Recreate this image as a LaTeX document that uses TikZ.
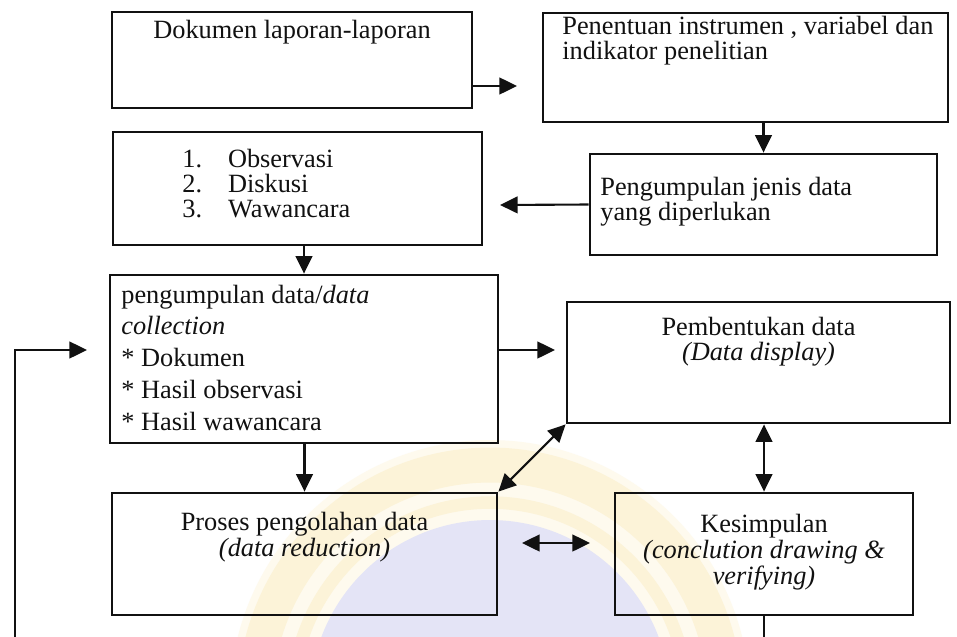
\documentclass[tikz,border=0pt]{standalone}
\usepackage{fontspec}
\setmainfont{Liberation Serif}
\usetikzlibrary{arrows.meta,fit}

\definecolor{ink}{HTML}{111111}
\definecolor{wmyellow}{HTML}{FCF3D8}
\definecolor{wmyellowlight}{HTML}{FEFAEE}
\definecolor{wmblue}{HTML}{E4E4F6}

% a block of lines whose baseline is the first line
\newcommand{\txtblock}[2]{\begin{tabular}[t]{@{}#1@{}}#2\end{tabular}}

\begin{document}
\begin{tikzpicture}[x=0.02cm, y=-0.02cm,
  box/.style={draw=ink, line width=1.6pt, inner sep=0pt},
  txt/.style={inner sep=0pt, text=ink, font=\fontsize{15pt}{#1}\selectfont},
  txt/.default=14pt,
  link/.style={draw=ink, line width=1.2pt, -{Triangle[length=10pt,width=9.5pt]}},
  twoway/.style={draw=ink, line width=1.2pt,
    {Triangle[length=10pt,width=9.5pt]}-{Triangle[length=10pt,width=9.5pt]}}]

\useasboundingbox (0,0) rectangle (957,636);
\clip (0,0) rectangle (957,636);
\fill[white] (0,0) rectangle (957,636);

% faint seal printed behind the lower part
\fill[wmyellowlight] (490,700) circle[radius=5.2cm];
\draw[wmyellow, line width=0.7cm] (490,700) circle[radius=4.7cm];
\draw[wmyellow, line width=0.25cm] (490,700) circle[radius=3.95cm];
\fill[wmblue] (490,700) circle[radius=3.6cm];

% process boxes
\node[box, fit={(112,12) (472,108)}]  (dok) {};
\node[box, fit={(543,13) (948,122)}]  (pen) {};
\node[box, fit={(590,154) (937,255)}] (jen) {};
\node[box, fit={(113,132) (482,245)}] (obs) {};
\node[box, fit={(110,275) (498,443)}] (kol) {};
\node[box, fit={(567,302) (950,423)}] (pem) {};
\node[box, fit={(112,493) (497,615)}] (pro) {};
\node[box, fit={(615,493) (913,615)}] (kes) {};

% box texts
\node[txt, anchor=base] (dokT) at (dok.north |- 0,38) {Dokumen laporan-laporan};
\node[txt=13pt, anchor=base west] (penT) at (562,34)
  {\txtblock{l}{Penentuan instrumen , variabel dan\\indikator penelitian}};
\node[txt=14.2pt, anchor=base west] (jenT) at (600,195)
  {\txtblock{l}{Pengumpulan jenis data\\yang diperlukan}};
\node[txt=13.7pt, anchor=base west] (obsT) at (182,167)
  {\txtblock{p{26pt}@{}l}{1. & Observasi\\2. & Diskusi\\3. & Wawancara}};
\node[txt=18.2pt, anchor=base west] (kolT) at (121,303)
  {\txtblock{l}{pengumpulan data/\textit{data}\\\textit{collection}\\{*} Dokumen\\{*} Hasil observasi\\{*} Hasil wawancara}};
\node[txt=14.2pt, anchor=base] (pemT) at (pem.north |- 0,335)
  {\txtblock{c}{Pembentukan data\\\textit{(Data display)}}};
\node[txt=15.3pt, anchor=base] (proT) at (pro.north |- 0,530)
  {\txtblock{c}{Proses pengolahan data\\\textit{(data reduction)}}};
\node[txt=15pt, anchor=base] (kesT) at (kes.north |- 0,532)
  {\txtblock{c}{Kesimpulan\\\textit{(conclution drawing \&}\\\textit{verifying)}}};

% free arrow ends
\coordinate (dokTip)  at (517,86);
\coordinate (jenTip)  at (500,205);
\coordinate (kolTip)  at (555,350);
\coordinate (pkL)     at (522,543);
\coordinate (pkR)     at (590,543);
\coordinate (loopTip) at (87,350);
\coordinate (loopCorner) at (15,350);

% connectors
\draw[link] (dok.east |- dokTip) -- (dokTip);
\draw[link] (jen.north |- pen.south) -- (jen.north);
\draw[link] (jen.west) -- (jenTip);
\draw[link] (kol.north |- obs.south) -- (kol.north);
\draw[link] (kol.east |- kolTip) -- (kolTip);
\draw[link] (pro.north |- kol.south) -- (pro.north);
\draw[twoway] (pem.south west) -- (pro.north east);
\draw[twoway] (kes.north |- pem.south) -- (kes.north);
\draw[twoway] (pkL) -- (pkR);
% feedback loop running below the page edge
\draw[link, line join=miter] (kes.south) -- ++(0,70) -| (loopCorner) -- (loopTip);
\end{tikzpicture}
\end{document}
